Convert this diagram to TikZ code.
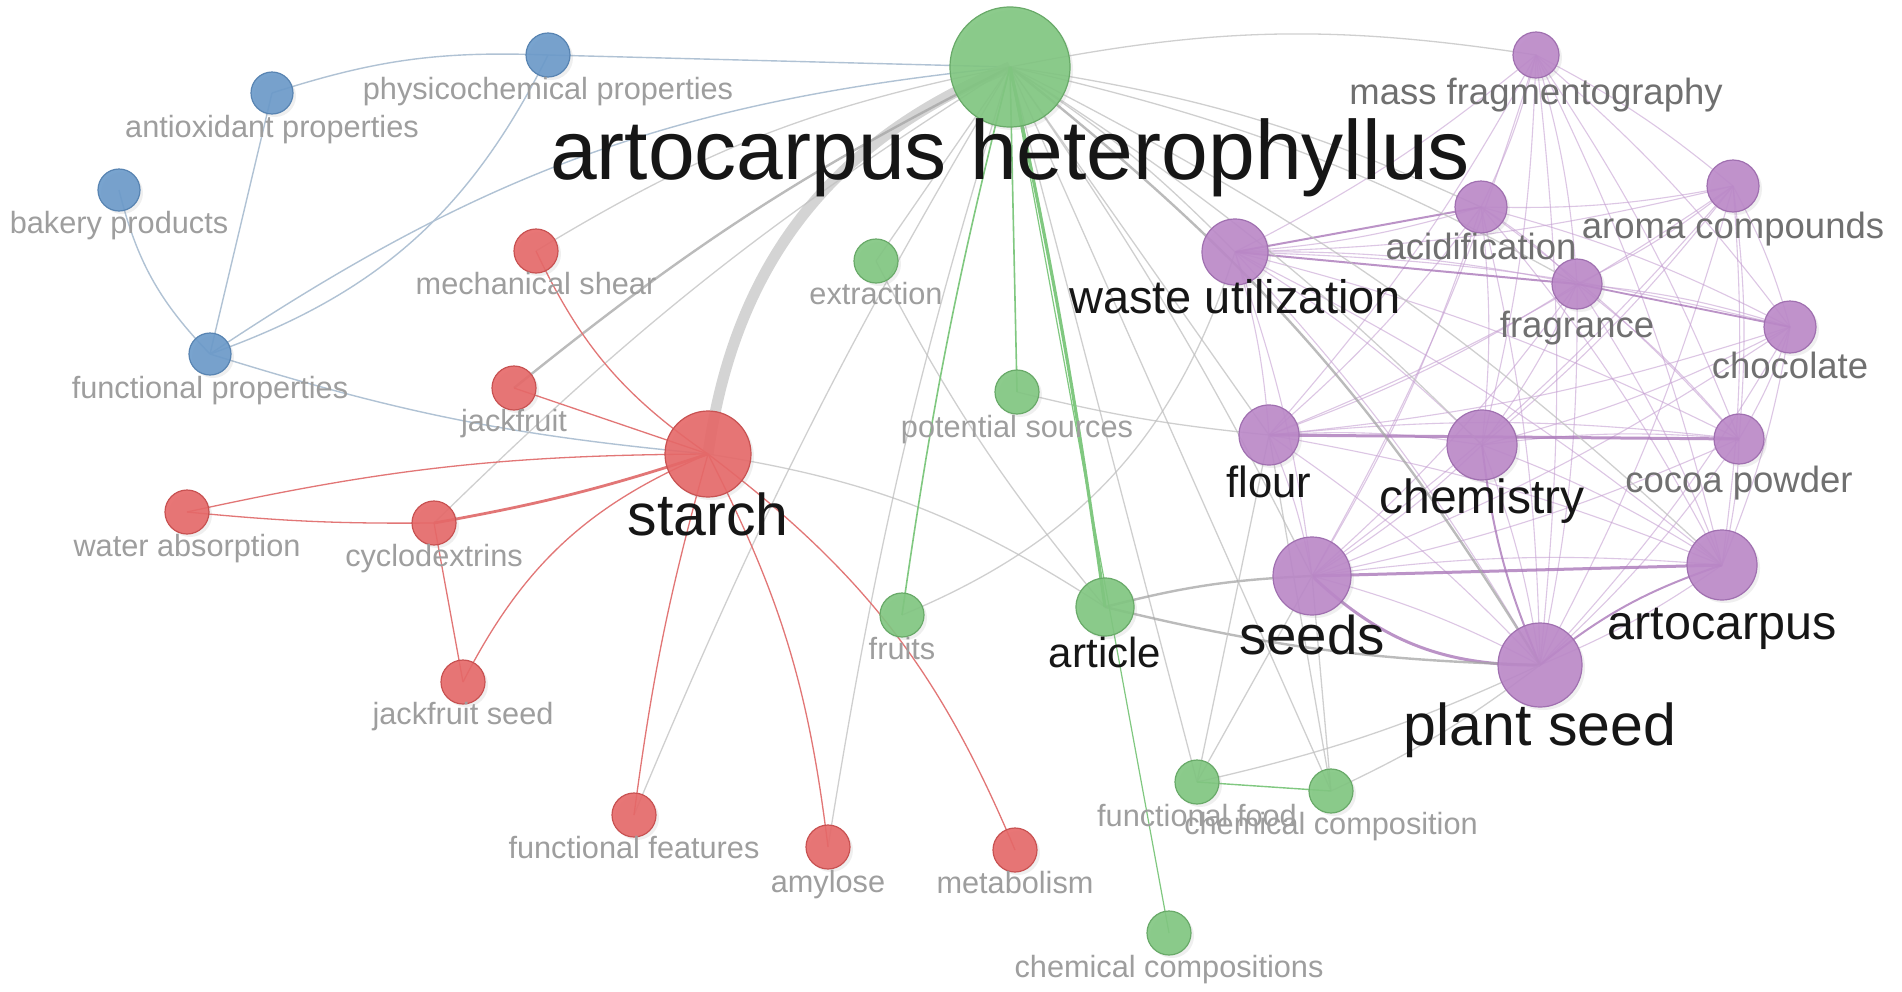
\documentclass[tikz,border=0pt]{standalone}
\usepackage{fontspec}
\setmainfont{Liberation Sans}
\usetikzlibrary{shadows}
\pgfdeclarelayer{bg}\pgfdeclarelayer{edges}\pgfdeclarelayer{labels}
\pgfsetlayers{bg,edges,main,labels}
\definecolor{gF}{RGB}{128,198,128}\definecolor{gD}{RGB}{105,170,105}
\definecolor{rF}{RGB}{230,104,104}\definecolor{rD}{RGB}{200,82,82}
\definecolor{bF}{RGB}{106,153,201}\definecolor{bD}{RGB}{88,132,178}
\definecolor{pF}{RGB}{187,136,200}\definecolor{pD}{RGB}{160,112,176}
\definecolor{lgc}{RGB}{158,158,158}\definecolor{mgc}{RGB}{112,112,112}\definecolor{blk}{RGB}{22,22,22}
\definecolor{egc}{RGB}{192,192,192}\definecolor{egd}{RGB}{165,165,165}\definecolor{egt}{RGB}{212,212,212}
\definecolor{ebc}{RGB}{176,194,212}\definecolor{erc}{RGB}{226,118,118}\definecolor{egnc}{RGB}{128,200,128}
\definecolor{epc}{RGB}{198,160,210}\definecolor{epd}{RGB}{170,120,185}
\tikzset{
 kwnode/.style={circle, inner sep=0pt, line width=1.2pt, fill opacity=0.9,
   drop shadow={opacity=0.12, shadow xshift=3pt, shadow yshift=-3pt}},
 ng/.style={kwnode, fill=gF, draw=gD},
 nr/.style={kwnode, fill=rF, draw=rD},
 nb/.style={kwnode, fill=bF, draw=bD},
 np/.style={kwnode, fill=pF, draw=pD},
 lg/.style={font=\fontsize{30.7pt}{32pt}\selectfont, text=lgc},
 lp/.style={font=\fontsize{36.5pt}{38pt}\selectfont, text=mgc},
 lk/.style={font=\fontsize{#1pt}{#1pt}\selectfont, text=blk},
 eg/.style={draw=egc, line width=1.3pt, opacity=0.75},
 eg2/.style={draw=egd, line width=2.4pt, opacity=0.75},
 egthick/.style={draw=egt, line width=11pt},
 eb/.style={draw=ebc, line width=1.4pt},
 er/.style={draw=erc, line width=1.3pt},
 er2/.style={draw=erc, line width=2.8pt},
 egn/.style={draw=egnc, line width=1.6pt},
 egn2/.style={draw=egnc, line width=3.2pt},
 ep/.style={draw=epc, line width=1.1pt, opacity=0.6},
 ep2/.style={draw=epd, line width=3pt, opacity=0.8},
}
\newcommand\kw[8]{%
  \node[#5, minimum size=#4*2pt] (n#1) at (#2,#3) {};%
  \begin{pgfonlayer}{labels}\node[#7, anchor=base, inner sep=0pt] (l#1) at (#2,#6) {#8};\end{pgfonlayer}}
\newcommand\mylink[3][eg]{\draw[#1] (n#2.center) to (n#3.center);}
\begin{document}
\begin{tikzpicture}[x=1pt,y=-1pt]
\begin{pgfonlayer}{bg}
\fill[white] (0,0) rectangle (1902,991);
\end{pgfonlayer}
\useasboundingbox (0,0) rectangle (1902,991);
% nodes
\kw{phys}{548}{55}{22}{nb}{99}{lg}{physicochemical properties}
\kw{antiox}{272}{93}{21}{nb}{137}{lg}{antioxidant properties}
\kw{bakery}{119}{190}{21}{nb}{233}{lg}{bakery products}
\kw{fprop}{210}{354}{21}{nb}{398}{lg}{functional properties}
\kw{mech}{536}{251}{22}{nr}{294}{lg}{mechanical shear}
\kw{jf}{514}{388}{22}{nr}{431}{lg}{jackfruit}
\kw{starch}{708}{454}{43}{nr}{535}{lk=59}{starch}
\kw{water}{187}{512}{22}{nr}{556}{lg}{water absorption}
\kw{cyclo}{434}{523}{22}{nr}{566}{lg}{cyclodextrins}
\kw{jfseed}{463}{682}{22}{nr}{724}{lg}{jackfruit seed}
\kw{ffeat}{634}{815}{22}{nr}{858}{lg}{functional features}
\kw{amyl}{828}{847}{22}{nr}{892}{lg}{amylose}
\kw{metab}{1015}{850}{22}{nr}{893}{lg}{metabolism}
\kw{ah}{1010}{67}{60}{ng}{179}{lk=84}{artocarpus heterophyllus}
\kw{extr}{876}{261}{22}{ng}{304}{lg}{extraction}
\kw{psrc}{1017}{392}{22}{ng}{437}{lg}{potential sources}
\kw{fruits}{902}{615}{22}{ng}{659}{lg}{fruits}
\kw{article}{1105}{607}{29}{ng}{667}{lk=42}{article}
\kw{ffood}{1197}{782}{22}{ng}{826}{lg}{functional food}
\kw{ccomp}{1331}{791}{22}{ng}{834}{lg}{chemical composition}
\kw{ccomps}{1169}{933}{22}{ng}{977}{lg}{chemical compositions}
\kw{mass}{1536}{55}{23}{np}{104}{lp}{mass fragmentography}
\kw{aroma}{1733}{186}{26}{np}{238}{lp}{aroma compounds}
\kw{acid}{1481}{207}{26}{np}{259}{lp}{acidification}
\kw{waste}{1235}{252}{33}{np}{313}{lk=47}{waste utilization}
\kw{frag}{1577}{284}{25}{np}{337}{lp}{fragrance}
\kw{choc}{1790}{327}{26}{np}{378}{lp}{chocolate}
\kw{flour}{1269}{435}{30}{np}{497}{lk=43.6}{flour}
\kw{chem}{1482}{445}{35}{np}{513}{lk=48}{chemistry}
\kw{cocoa}{1739}{439}{25}{np}{492}{lp}{cocoa powder}
\kw{seeds}{1312}{576}{39}{np}{654}{lk=54.6}{seeds}
\kw{arto}{1722}{565}{35}{np}{639}{lk=48.5}{artocarpus}
\kw{pseed}{1540}{665}{42}{np}{745}{lk=59}{plant seed}
% edges
\begin{pgfonlayer}{edges}
% purple cluster: all pairs
\foreach \a [count=\i] in {mass,aroma,acid,waste,frag,choc,flour,chem,cocoa,seeds,arto,pseed}{
  \foreach \b [count=\j] in {mass,aroma,acid,waste,frag,choc,flour,chem,cocoa,seeds,arto,pseed}{
    \ifnum\i<\j \draw[ep, bend left=6] (n\a.center) to (n\b.center); \fi}}
\mylink[ep2]{seeds}{arto}
\mylink[ep2]{flour}{cocoa}
\mylink[ep2, bend right=22]{seeds}{pseed}
\mylink[ep2, line width=2pt]{waste}{acid}
\mylink[ep2, line width=2pt]{waste}{frag}
\mylink[ep2, line width=2pt, bend right=8]{chem}{pseed}
\mylink[ep2, line width=2pt, bend left=10]{pseed}{arto}
\mylink[ep2, line width=1.8pt]{frag}{choc}
% blue
\mylink[eb, bend left=10]{antiox}{phys}
\mylink[eb]{phys}{ah}
\mylink[eb]{antiox}{fprop}
\mylink[eb, bend right=15]{bakery}{fprop}
\mylink[eb, bend left=22]{phys}{fprop}
\mylink[eb, bend left=14]{fprop}{ah}
\mylink[eb, bend right=6]{fprop}{starch}
% grey
\mylink[egthick, bend left=30]{starch}{ah}
\mylink[eg2, bend left=6]{jf}{ah}
\mylink[eg, bend left=6]{cyclo}{ah}
\mylink[eg, bend left=10]{mech}{ah}
\mylink[eg, bend left=12]{starch}{article}
\mylink[eg]{ah}{extr}
\mylink[eg, bend right=6]{extr}{article}
\mylink[eg, bend right=4]{ah}{amyl}
\mylink[eg, bend right=4]{ah}{ffeat}
\mylink[eg]{ah}{ffood}
\mylink[eg]{ah}{ccomp}
\mylink[eg, bend right=4]{psrc}{flour}
\mylink[eg, bend right=25]{fruits}{waste}
\mylink[eg2, bend left=6]{article}{seeds}
\mylink[eg2, bend right=6]{article}{pseed}
\mylink[eg]{ffood}{seeds}
\mylink[eg, bend right=6]{ffood}{pseed}
\mylink[eg]{ffood}{flour}
\mylink[eg]{ccomp}{seeds}
\mylink[eg, bend right=6]{ccomp}{pseed}
\mylink[eg]{ccomp}{flour}
\mylink[eg, bend left=6]{ah}{waste}
\mylink[eg]{ah}{flour}
\mylink[eg, bend left=4]{ah}{seeds}
\mylink[eg, bend left=6]{ah}{chem}
\mylink[eg2, bend left=10]{ah}{pseed}
\mylink[eg, bend left=8]{ah}{arto}
\mylink[eg, bend left=8]{ah}{acid}
\mylink[eg, bend left=8]{ah}{frag}
\mylink[eg, bend left=10]{ah}{mass}
% green
\mylink[egn]{ah}{psrc}
\mylink[egn, bend right=3]{ah}{fruits}
\mylink[egn2, bend left=2]{ah}{article}
\mylink[egn, line width=1.2pt]{ah}{ccomps}
\mylink[egn, line width=1.4pt]{ffood}{ccomp}
% red
\mylink[er, bend right=6]{starch}{water}
\mylink[er, bend right=3]{water}{cyclo}
\mylink[er2, bend left=4]{starch}{cyclo}
\mylink[er]{starch}{jf}
\mylink[er, bend right=15]{mech}{starch}
\mylink[er, bend right=20]{starch}{jfseed}
\mylink[er]{cyclo}{jfseed}
\mylink[er, bend right=4]{starch}{ffeat}
\mylink[er, bend left=10]{starch}{amyl}
\mylink[er, bend left=15]{starch}{metab}
\end{pgfonlayer}
\end{tikzpicture}
\end{document}
